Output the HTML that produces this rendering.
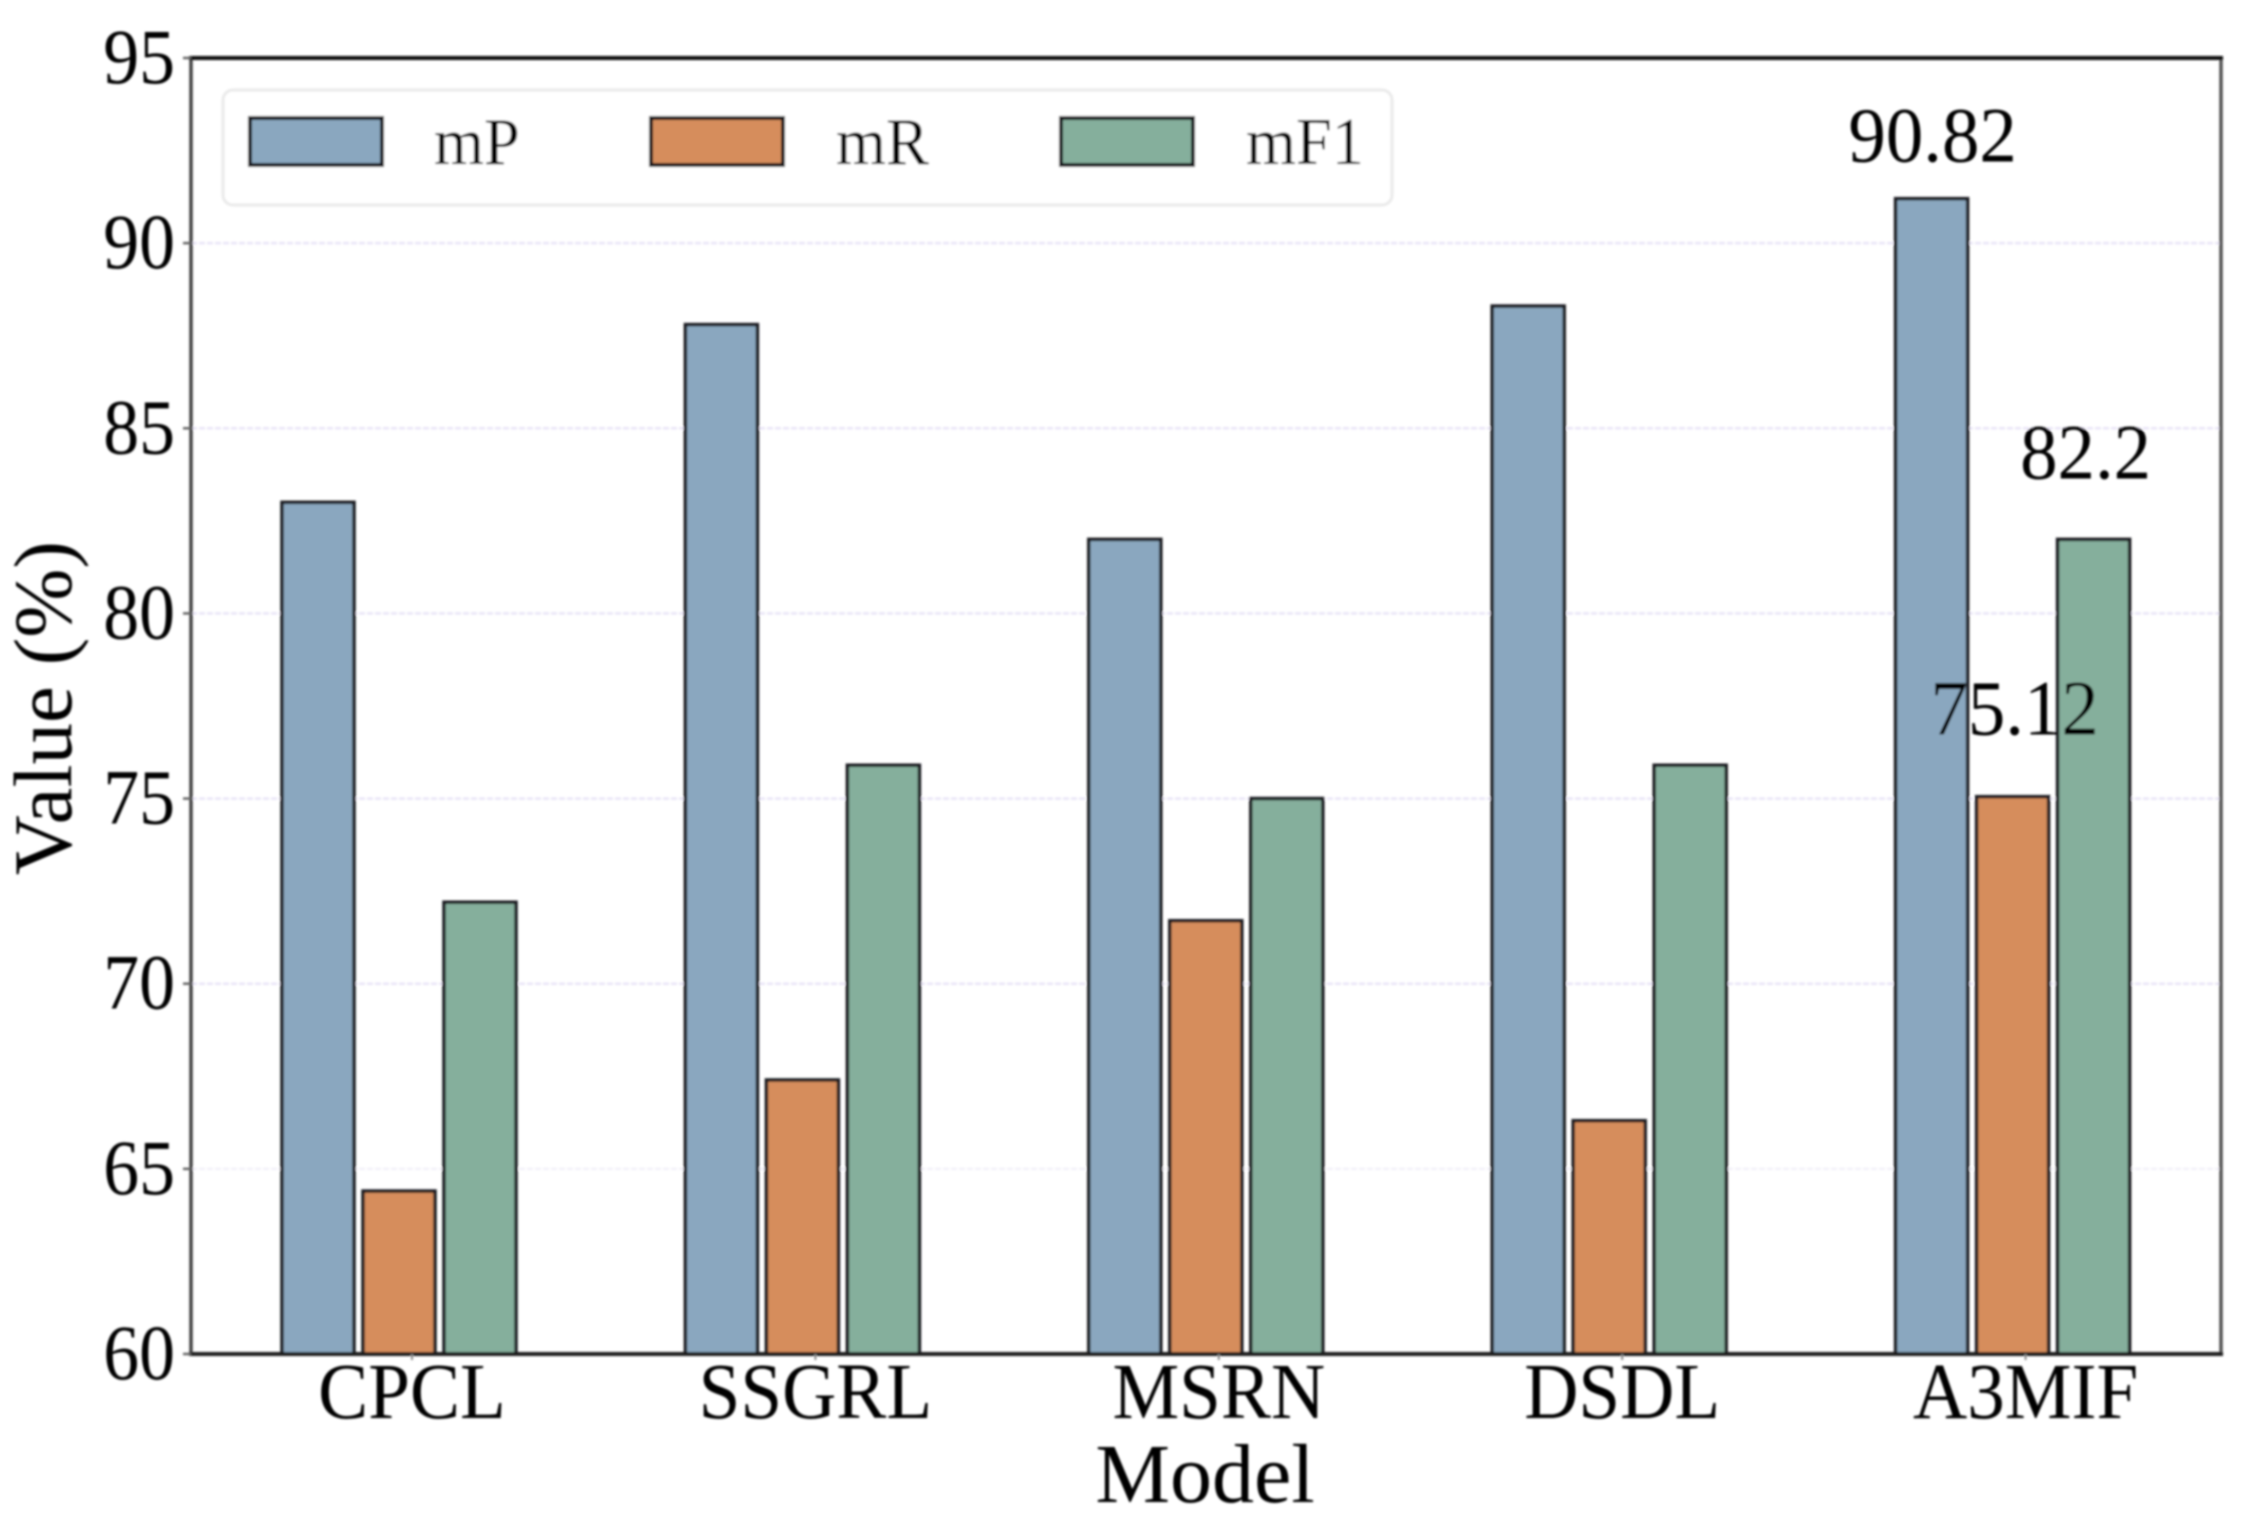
<!DOCTYPE html>
<html lang="en">
<head>
<meta charset="utf-8">
<title>Model comparison bar chart</title>
<style>
html,body{margin:0;padding:0;background:#fff;}
#chart{display:block;width:2245px;height:1525px;}
text{font-family:"Liberation Serif",serif;fill:#050505;}
</style>
</head>
<body>
<svg id="chart" xmlns="http://www.w3.org/2000/svg" width="2245" height="1525" viewBox="0 0 2245 1525">
  <defs><filter id="soft" x="-2%" y="-2%" width="104%" height="104%"><feGaussianBlur stdDeviation="1"/></filter></defs>
  <g id="root" filter="url(#soft)"></g>
</svg>
<script>
const categories = ["CPCL", "SSGRL", "MSRN", "DSDL", "A3MIF"];
const seriesNames = ["mP", "mR", "mF1"];
const mPValues = [83, 87.8, 82, 88.3, 91.2];
const mRValues = [64.4, 67.4, 71.7, 66.3, 75.05];
const mF1Values = [72.2, 75.9, 75, 75.9, 82];
const yTickLabels = [60, 65, 70, 75, 80, 85, 90, 95];
const annotationLabels = [90.82, 75.12, 82.2];

const seriesValues = [mPValues, mRValues, mF1Values];
const colors = ["#8aa7bf", "#d68d5b", "#85af9c"];
const NS = "http://www.w3.org/2000/svg";
const root = document.getElementById("root");

const plot = {left: 191, right: 2221, top: 58, bottom: 1354};
const yMin = 60, yMax = 95;
function yScale(v) { return plot.bottom - (v - yMin) / (yMax - yMin) * (plot.bottom - plot.top); }
const groupStart = 399, groupStep = 403.4, barStep = 81, barWidth = 72;
function xCenter(i) { return groupStart + i * groupStep; }
function xBar(i, s) { return xCenter(i) + (s - 1) * barStep; }

function make(tag, attrs) {
  const el = document.createElementNS(NS, tag);
  for (const k in attrs) el.setAttribute(k, attrs[k]);
  root.appendChild(el);
  return el;
}
function label(str, x, y, size, sx, anchor) {
  const el = make("text", {transform: "translate(" + x + "," + y + ") scale(" + sx + ",1)", "font-size": size, "text-anchor": anchor});
  el.textContent = str;
  return el;
}

// gridlines
yTickLabels.forEach(function (t) {
  if (t === yMin || t === yMax) return;
  const g = make("line", {x1: plot.left, x2: plot.right, y1: yScale(t), y2: yScale(t), stroke: t === 65 ? "#f3f1f9" : "#e9e5f7", "stroke-width": 2.5, "stroke-dasharray": "6 2"});
  
  
});

// bars
seriesValues.forEach(function (vals, s) {
  vals.forEach(function (v, i) {
    const top = yScale(v);
    const b = make("rect", {x: xBar(i, s) - barWidth / 2, y: top, width: barWidth, height: plot.bottom - top, fill: colors[s], stroke: "#1b1e20", "stroke-width": 3.5});
    
    
  });
});

// spines
const spineLeft = make("line", {x1: plot.left, x2: plot.left, y1: plot.top, y2: plot.bottom, stroke: "#444", "stroke-width": 3.5});


const spineRight = make("line", {x1: plot.right, x2: plot.right, y1: plot.top, y2: plot.bottom, stroke: "#555", "stroke-width": 3.5});


const spineTop = make("line", {x1: plot.left - 2, x2: plot.right + 2, y1: plot.top, y2: plot.top, stroke: "#111", "stroke-width": 4});


const spineBottom = make("line", {x1: plot.left - 2, x2: plot.right + 2, y1: plot.bottom, y2: plot.bottom, stroke: "#1a1a1a", "stroke-width": 4});



// y ticks and labels
yTickLabels.forEach(function (t) {
  const m = make("line", {x1: plot.left - 8, x2: plot.left, y1: yScale(t), y2: yScale(t), stroke: "#666", "stroke-width": 2.5});
  
  
  const l = label(String(t), 175, yScale(t) + 25, 78, 0.92, "end");
  
  
});

// x ticks and labels
categories.forEach(function (c, i) {
  const m = make("line", {x1: xCenter(i) + 13, x2: xCenter(i) + 13, y1: plot.bottom, y2: plot.bottom + 6, stroke: "#888", "stroke-width": 2});
  
  
  const l = label(c, xCenter(i) + 13, 1418, 79, 0.95, "middle");
  
  
});

// axis titles
const xTitle = label("Model", 1205, 1502, 84, 1, "middle");


const yTitle = make("text", {transform: "translate(71,708) rotate(-90)", "font-size": 83, "text-anchor": "middle"});
yTitle.textContent = "Value (%)";



// annotations (on the last model, one per series)
const last = categories.length - 1;
const annotationDx = [1, 2, -8], annotationGap = [37, 62, 61];
annotationLabels.forEach(function (a, s) {
  const x = xBar(last, s) + annotationDx[s];
  const y = yScale(seriesValues[s][last]) - annotationGap[s];
  const l = label(String(a), x, y, 78, 0.96, "middle");
  
  
});

// legend
const legendBox = make("rect", {x: 223, y: 90, width: 1169, height: 115, rx: 10, ry: 10, fill: "#fff", stroke: "#eaeaea", "stroke-width": 3});


const legendSwatchX = [250, 651, 1061], legendTextX = [434, 836, 1246];
seriesNames.forEach(function (n, s) {
  const r = make("rect", {x: legendSwatchX[s], y: 118, width: 132, height: 47, fill: colors[s], stroke: "#14171a", "stroke-width": 4});
  
  
  const l = label(n, legendTextX[s], 164, 67, 0.96, "start");
  
  
});
</script>
</body>
</html>
